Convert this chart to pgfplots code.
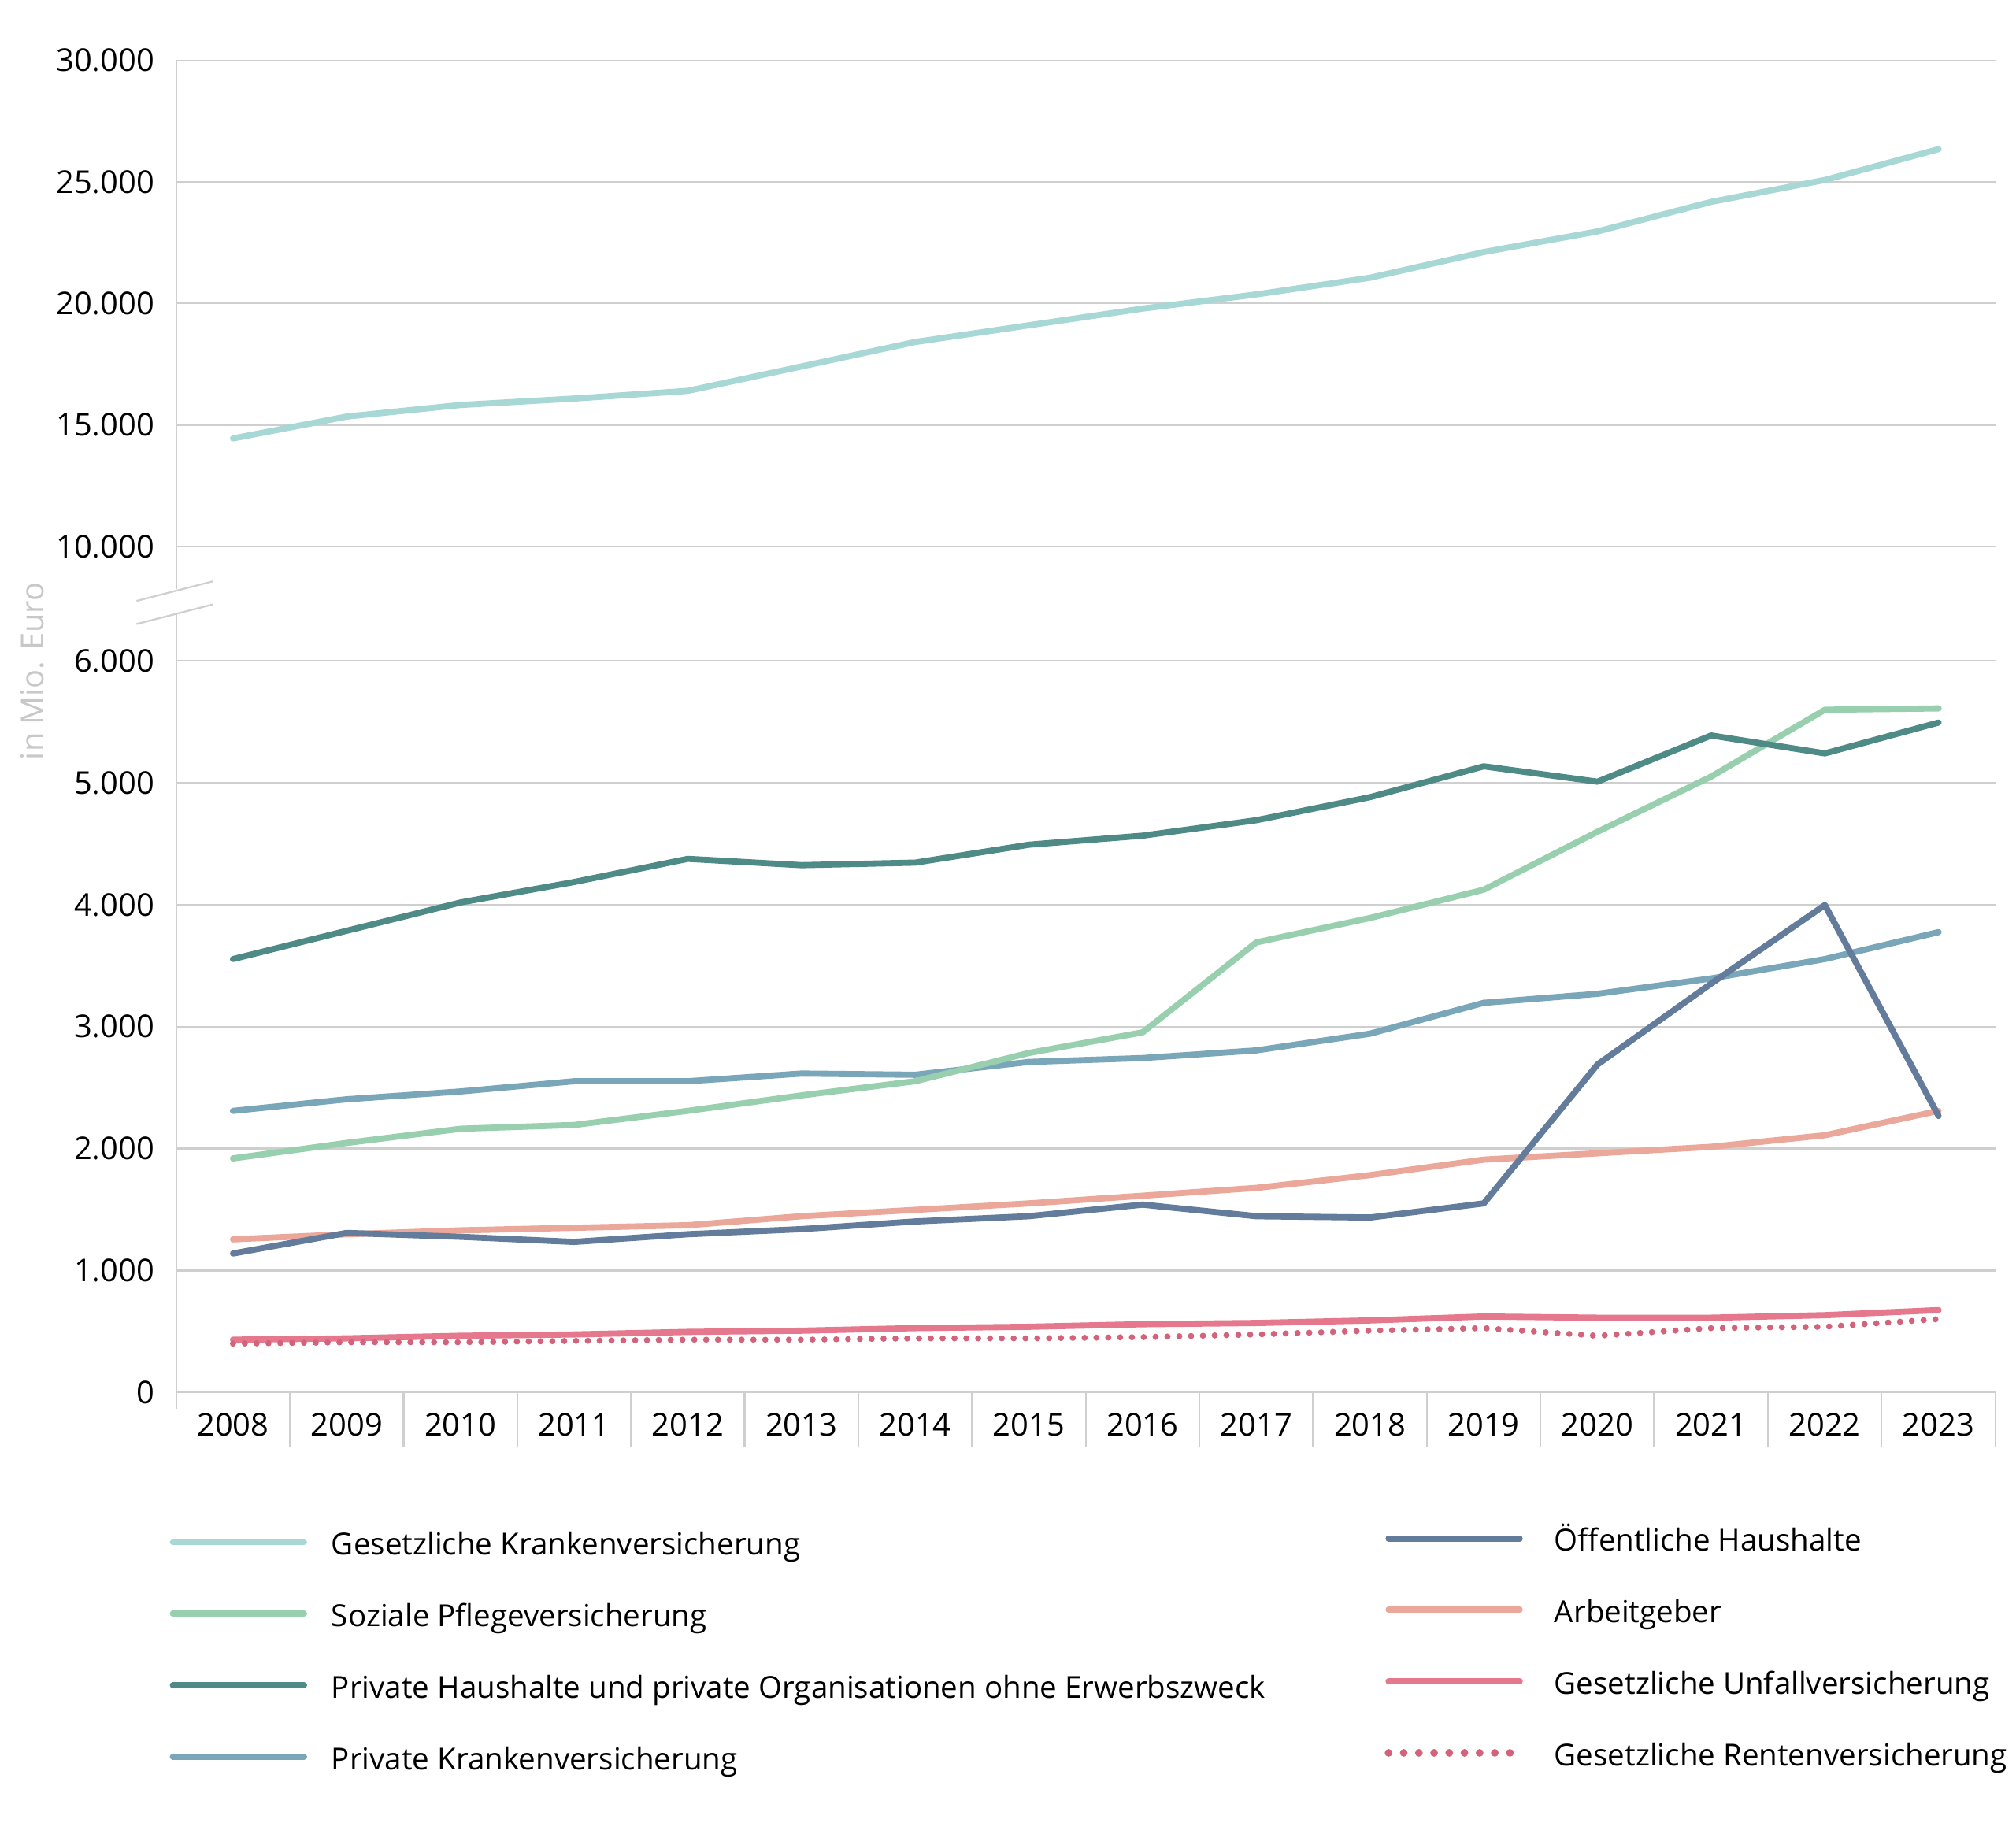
\documentclass[border=0pt]{standalone}
\usepackage{fontspec}
\setmainfont{Open Sans}
\usepackage{pgfplots}
\pgfplotsset{compat=1.18}

\definecolor{gkv}{HTML}{A8D8D5}
\definecolor{spv}{HTML}{98CFAE}
\definecolor{phh}{HTML}{4E8B87}
\definecolor{pkv}{HTML}{7AA6BA}
\definecolor{oeh}{HTML}{637C9B}
\definecolor{arb}{HTML}{EBA89A}
\definecolor{guv}{HTML}{E5788C}
\definecolor{grv}{HTML}{D2637A}
\definecolor{gridgray}{HTML}{CFCFCF}
\definecolor{labelgray}{HTML}{C8C8C8}
\newcommand\myfont{\fontsize{12.2pt}{14.6pt}\selectfont}
\newcommand\legfont{\fontsize{11.8pt}{14pt}\selectfont}

\pgfplotsset{
  base/.style={
    scale only axis, width=707.5pt,
    xmin=2007.5, xmax=2023.5,
    ymajorgrids, grid style={draw=gridgray, line width=0.7pt},
    major tick length=0pt,
    ytick style={draw=none},
    /pgf/number format/assume math mode=true,
    yticklabel style={/pgf/number format/1000 sep={.}, font=\myfont, xshift=-5pt},
    scaled y ticks=false,
    legend cell align=left,
    legend image code/.code={\draw[##1] (0pt,0pt) -- (51pt,0pt);},
    legend style={draw=none, fill=none, inner sep=0pt, outer sep=0pt,
      font=\legfont, anchor=north west, row sep=13.8pt,
      nodes={inner sep=0pt, text height=12pt, text depth=2pt}},
  },
  ser/.style={line width=2.4pt, line join=round, line cap=round},
  dots/.style={line width=2.4pt, line cap=round, dash pattern=on 0pt off 4.6pt},
}

\begin{document}
\begin{tikzpicture}
\useasboundingbox (-68.5pt,-171.5pt) rectangle (715.5pt,541.5pt);

% lower part 0 - 6000
\begin{axis}[base,
  at={(0pt,0pt)}, anchor=south west, height=284.5pt,
  axis x line=bottom, axis y line=left,
  axis line style={-, draw=gridgray, line width=0.7pt},
  x axis line style={-}, y axis line style={-},
  tick align=outside,
  ymin=0, ymax=6000, ytick={0,1000,...,6000},
  xtick={2008,...,2023},
  minor xtick={2008.5,2009.5,...,2023.5},
  minor tick length=21.5pt,
  major x tick style={draw=none},
  minor x tick style={draw=gridgray, line width=0.7pt},
  xticklabel style={/pgf/number format/1000 sep={}, font=\myfont, yshift=-4.5pt},
  legend style={at={(0.6643,-0.175)},
    /tikz/every odd column/.append style={column sep=12pt}},
]
\addplot[ser, pkv, forget plot] coordinates {
  (2008,2309) (2009,2404) (2010,2468) (2011,2552) (2012,2552) (2013,2615)
  (2014,2605) (2015,2710) (2016,2742) (2017,2805) (2018,2942) (2019,3195)
  (2020,3269) (2021,3395) (2022,3554) (2023,3775)};
\addplot[ser, spv, forget plot] coordinates {
  (2008,1919) (2009,2046) (2010,2162) (2011,2193) (2012,2309) (2013,2436)
  (2014,2552) (2015,2784) (2016,2953) (2017,3691) (2018,3891) (2019,4123)
  (2020,4598) (2021,5051) (2022,5599) (2023,5610)};
\addplot[ser, phh, forget plot] coordinates {
  (2008,3554) (2009,3786) (2010,4018) (2011,4186) (2012,4376) (2013,4324)
  (2014,4345) (2015,4492) (2016,4566) (2017,4693) (2018,4882) (2019,5135)
  (2020,5009) (2021,5388) (2022,5241) (2023,5494)};
\addplot[ser, arb, forget plot] coordinates {
  (2008,1255) (2009,1297) (2010,1329) (2011,1350) (2012,1371) (2013,1445)
  (2014,1497) (2015,1550) (2016,1613) (2017,1677) (2018,1782) (2019,1909)
  (2020,1961) (2021,2014) (2022,2109) (2023,2309)};
\addplot[ser, oeh, forget plot] coordinates {
  (2008,1139) (2009,1308) (2010,1276) (2011,1234) (2012,1297) (2013,1339)
  (2014,1402) (2015,1445) (2016,1540) (2017,1445) (2018,1434) (2019,1550)
  (2020,2689) (2021,3353) (2022,3997) (2023,2267)};
\addplot[ser, guv, forget plot] coordinates {
  (2008,432) (2009,443) (2010,464) (2011,475) (2012,496) (2013,506)
  (2014,527) (2015,538) (2016,559) (2017,569) (2018,590) (2019,622)
  (2020,612) (2021,612) (2022,633) (2023,675)};
\addplot[dots, grv, forget plot] coordinates {
  (2008,400) (2009,411) (2010,411) (2011,422) (2012,432) (2013,432)
  (2014,443) (2015,443) (2016,453) (2017,475) (2018,506) (2019,527)
  (2020,464) (2021,527) (2022,538) (2023,601)};

\addlegendimage{ser, oeh}
\addlegendentry{Öffentliche Haushalte}
\addlegendimage{ser, arb}
\addlegendentry{Arbeitgeber}
\addlegendimage{ser, guv}
\addlegendentry{Gesetzliche Unfallversicherung}
\addlegendimage{line width=3pt, line cap=round, dash pattern=on 0pt off 5.9pt, grv}
\addlegendentry{Gesetzliche Rentenversicherung}
\end{axis}

% upper part 10000 - 30000
\begin{axis}[base,
  at={(0pt,329pt)}, anchor=south west, height=189pt,
  axis x line=none, axis y line=left,
  axis line style={-, draw=gridgray, line width=0.7pt},
  y axis line style={-},
  ymin=10000, ymax=30000, ytick={10000,15000,...,30000},
  legend style={at={(-0.0035,-2.012)},
    /tikz/every odd column/.append style={column sep=9.5pt}},
]
\addplot[ser, gkv] coordinates {
  (2008,14444) (2009,15344) (2010,15820) (2011,16085) (2012,16402) (2013,17407)
  (2014,18413) (2015,19100) (2016,19788) (2017,20370) (2018,21058) (2019,22116)
  (2020,22963) (2021,24180) (2022,25080) (2023,26350)};
\addlegendentry{Gesetzliche Krankenversicherung}
\addlegendimage{ser, spv}
\addlegendentry{Soziale Pflegeversicherung}
\addlegendimage{ser, phh}
\addlegendentry{Private Haushalte und private Organisationen ohne Erwerbszweck}
\addlegendimage{ser, pkv}
\addlegendentry{Private Krankenversicherung}
\end{axis}

% axis break
\draw[gridgray, line width=0.7pt] (0pt,329pt) -- (0pt,312.3pt);
\draw[gridgray, line width=0.7pt] (0pt,284.5pt) -- (0pt,302.6pt);
\draw[gridgray, line width=0.7pt] (-15.4pt,307.8pt) -- (14.2pt,315.4pt);
\draw[gridgray, line width=0.7pt] (-15.4pt,298.8pt) -- (14.2pt,306.4pt);
\draw[gridgray, line width=0.7pt] (0pt,0pt) -- (0pt,-6.5pt);

\node[rotate=90, text=labelgray, font=\myfont] at (-56pt,280.5pt) {in Mio. Euro};
\end{tikzpicture}
\end{document}
